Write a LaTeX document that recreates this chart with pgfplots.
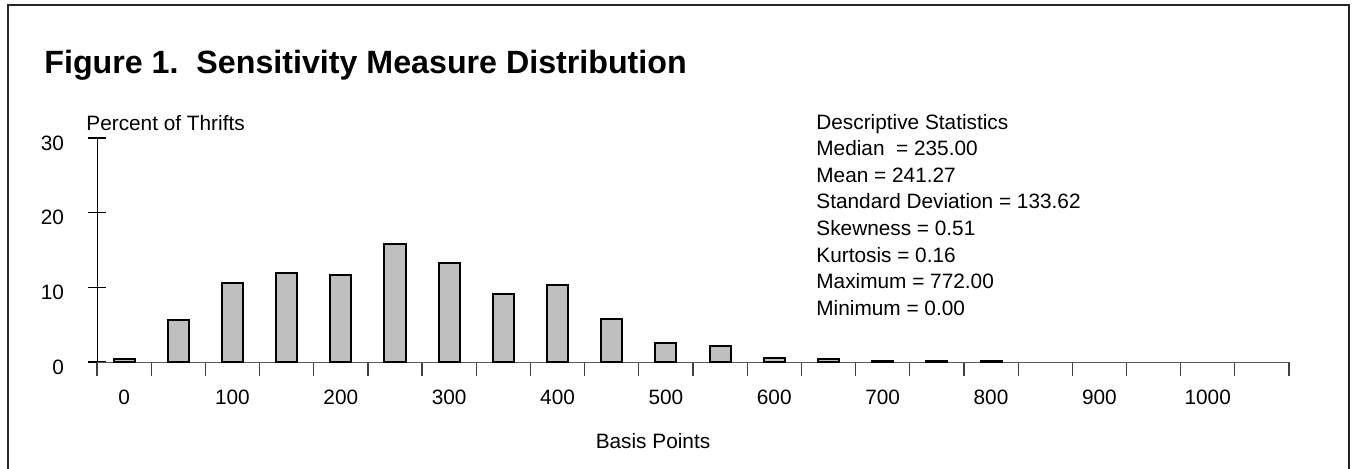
\documentclass[border=0pt]{standalone}
\usepackage{pgfplots}
\pgfplotsset{compat=1.18}
\usepackage{pgfplotstable}
\usepackage{fontspec}
\setmainfont{Liberation Sans}

% basis points (bin centre) vs percent of thrifts
\pgfplotstableread{
bp pct
0 0.4
50 5.6
100 10.6
150 11.9
200 11.6
250 15.8
300 13.3
350 9.1
400 10.3
450 5.8
500 2.6
550 2.2
600 0.6
650 0.4
700 0.2
750 0.2
800 0.2
}\freqtable

\newcommand{\txt}{\fontsize{10.4}{12}\selectfont}

\begin{document}
\begin{tikzpicture}
\useasboundingbox (0pt,0pt) rectangle (676.5pt,-234pt);
\draw[line width=1pt, black!85] (4pt,-2.5pt) rectangle (674.5pt,-237pt);

\node[anchor=base west, inner sep=0pt, font=\fontsize{16.1}{19}\selectfont\bfseries]
  at (22pt,-36.5pt) {Figure 1.\ \ Sensitivity Measure Distribution};
\node[anchor=base west, inner sep=0pt, font=\txt] at (43pt,-65pt) {Percent of Thrifts};
\node[anchor=base, inner sep=0pt, font=\txt] at (326.5pt,-224pt) {Basis Points};

\foreach \s [count=\i from 0] in {Descriptive Statistics,
  Median\ \ = 235.00, Mean = 241.27, Standard Deviation = 133.62,
  Skewness = 0.51, Kurtosis = 0.16, Maximum = 772.00, Minimum = 0.00}
  \node[anchor=base west, inner sep=0pt, font=\txt] at (408pt,-64.5pt-13.3pt*\i) {\s};

\begin{axis}[
  at={(48.5pt,-181pt)}, anchor=south west,
  scale only axis,
  width=596pt, height=112pt,
  xmin=-25, xmax=1075, ymin=0, ymax=30,
  axis x line*=bottom,
  axis y line*=left,
  axis line style={-},
  x axis line style={black!65},
  y axis line style={black},
  xtick pos=bottom, ytick pos=left,
  xtick align=center, ytick align=center,
  major tick length=7pt,
  xtick={-25,25,...,1075},
  xticklabels={},
  x tick style={black!75, line width=0.6pt},
  extra x ticks={0,100,...,1000},
  extra x tick labels={0,100,200,300,400,500,600,700,800,900,1000},
  extra x tick style={major tick length=0pt},
  ytick={0,10,20,30},
  y tick style={black, line width=0.6pt, /pgfplots/major tick length=9.5pt},
  every tick label/.append style={font=\txt},
  /pgf/number format/assume math mode=true,
  xticklabel style={yshift=-10.5pt},
  yticklabel style={xshift=-9.5pt, yshift=-2.5pt},
  ybar, bar width=19.4, bar shift=0pt,
  clip=false,
]
\addplot[draw=black, fill=black!25, line width=1pt] table[x=bp, y=pct] {\freqtable};
\end{axis}
\end{tikzpicture}
\end{document}
